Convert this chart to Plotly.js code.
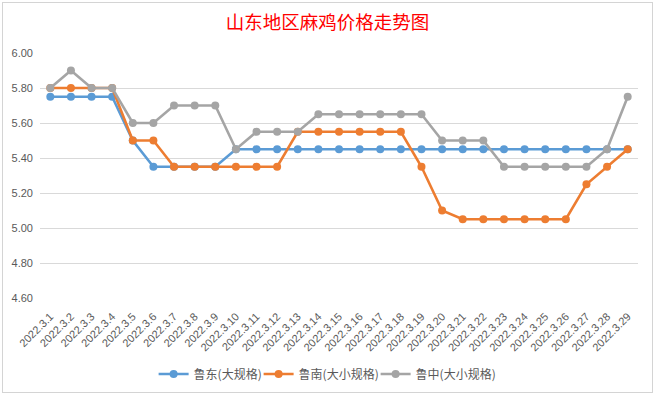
<!DOCTYPE html>
<html>
<head>
<meta charset="utf-8">
<script src="https://cdn.plot.ly/plotly-3.0.1.min.js"></script>
<style>
html,body{margin:0;padding:0;background:#fff;}
#wrap{position:relative;width:655px;height:395px;overflow:hidden;}
#chart{position:absolute;left:0;top:0;width:655px;height:395px;}
#frame{position:absolute;left:2px;top:2px;width:649px;height:389px;border:1px solid #d4d4d4;pointer-events:none;}
</style>
</head>
<body>
<div id="wrap"><div id="chart"></div><div id="frame"></div></div>
<script>
const dates = ["2022.3.1","2022.3.2","2022.3.3","2022.3.4","2022.3.5","2022.3.6","2022.3.7","2022.3.8","2022.3.9","2022.3.10",
"2022.3.11","2022.3.12","2022.3.13","2022.3.14","2022.3.15","2022.3.16","2022.3.17","2022.3.18","2022.3.19","2022.3.20",
"2022.3.21","2022.3.22","2022.3.23","2022.3.24","2022.3.25","2022.3.26","2022.3.27","2022.3.28","2022.3.29"];
const ludong = [5.75,5.75,5.75,5.75,5.50,5.35,5.35,5.35,5.35,5.45,
5.45,5.45,5.45,5.45,5.45,5.45,5.45,5.45,5.45,5.45,
5.45,5.45,5.45,5.45,5.45,5.45,5.45,5.45,5.45];
const lunan = [5.80,5.80,5.80,5.80,5.50,5.50,5.35,5.35,5.35,5.35,
5.35,5.35,5.55,5.55,5.55,5.55,5.55,5.55,5.35,5.10,
5.05,5.05,5.05,5.05,5.05,5.05,5.25,5.35,5.45];
const luzhong = [5.80,5.90,5.80,5.80,5.60,5.60,5.70,5.70,5.70,5.45,
5.55,5.55,5.55,5.65,5.65,5.65,5.65,5.65,5.65,5.50,
5.50,5.50,5.35,5.35,5.35,5.35,5.35,5.45,5.75];
const seriesNames = ["鲁东(大规格)","鲁南(大小规格)","鲁中(大小规格)"];
const colors = ["#5B9BD5","#ED7D31","#A5A5A5"];
const yTicks = [4.6,4.8,5.0,5.2,5.4,5.6,5.8,6.0];
const legendWidths = [60, 72, 80];

const data = [ludong, lunan, luzhong].map((v,i)=>({
  type:"scatter", mode:"lines+markers", x:dates, y:v, name:seriesNames[i],
  line:{color:colors[i], width:2.6},
  marker:{color:colors[i], size:8},
  legendwidth:legendWidths[i],
  cliponaxis:false
}));

const layout = {
  width:655, height:395,
  margin:{l:40, r:17, t:53, b:97, autoexpand:false},
  paper_bgcolor:"#fff", plot_bgcolor:"#fff",
  font:{family:"Liberation Sans, Noto Sans CJK SC, sans-serif", size:11, color:"#595959"},
  title:{text:"山东地区麻鸡价格走势图", x:0.5, xanchor:"center", y:0.942, yanchor:"middle",
    font:{family:"Noto Sans CJK SC", size:18.5, color:"#FF0000"}},
  xaxis:{type:"category", range:[-0.5,28.5], tickangle:-45, showgrid:false, showline:false, zeroline:false,
    ticks:"", ticklabelstandoff:9, tickfont:{size:11, color:"#595959"}, fixedrange:true},
  yaxis:{range:[4.6,6.0], tickvals:yTicks, tickformat:".2f", showgrid:true, gridcolor:"#D9D9D9", gridwidth:1,
    zeroline:false, showline:false, ticks:"", ticklabelstandoff:6, tickfont:{size:11, color:"#595959"}, fixedrange:true},
  showlegend:true,
  legend:{orientation:"h", x:0.19, xanchor:"left", y:-0.31, yanchor:"middle",
    font:{family:"Noto Sans CJK SC", size:12, color:"#595959"}, itemwidth:30, traceorder:"normal"}
};
Plotly.newPlot("chart", data, layout, {displayModeBar:false, staticPlot:true});
</script>
</body>
</html>
